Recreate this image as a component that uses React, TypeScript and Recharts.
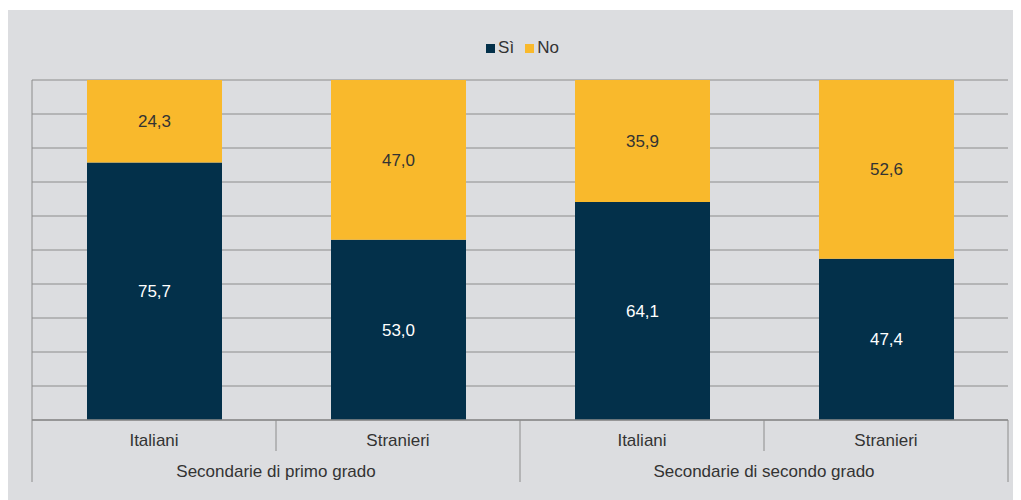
import React from "react";
import { BarChart, Bar, XAxis, YAxis, CartesianGrid, Legend, LabelList } from "recharts";

const categories = ["Italiani", "Stranieri", "Italiani", "Stranieri"];
const groups = ["Secondarie di primo grado", "Secondarie di primo grado", "Secondarie di secondo grado", "Secondarie di secondo grado"];
const siValues = [75.7, 53.0, 64.1, 47.4];
const noValues = [24.3, 47.0, 35.9, 52.6];
const yTicks = [0, 10, 20, 30, 40, 50, 60, 70, 80, 90, 100];
const seriesNames = ["Sì", "No"];

const DARK = "#03304a";
const YELLOW = "#f9b92c";
const GRID = "#8c8c8c";
const TEXT = "#333333";
const FONT = "'Liberation Sans', Arial, sans-serif";
const FS = 17;

const data = categories.map((c, i) => ({ key: `${i}`, cat: c, group: groups[i], si: siValues[i], no: noValues[i] }));

const fmt = (v: any) => Number(v).toFixed(1).replace(".", ",");

const EmptyTick = () => <g />;

const CatTick = (props: any) => {
  const { x, y, payload, index } = props;
  const half = payload && payload.offset ? payload.offset : 122;
  const i = index as number;
  const isGroupEnd = i % 2 === 1;
  const els: any[] = [];
  els.push(
    <text key="t" x={x} y={y + 26} textAnchor="middle" fill={TEXT} fontSize={FS} fontFamily={FONT}>
      {categories[i]}
    </text>
  );
  els.push(
    <line key="r" x1={x + half} x2={x + half} y1={y} y2={y + (isGroupEnd ? 62 : 31)} stroke={GRID} strokeWidth={1} />
  );
  if (i === 0) {
    els.push(<line key="l" x1={x - half} x2={x - half} y1={y} y2={y + 62} stroke={GRID} strokeWidth={1} />);
  }
  if (i % 2 === 0) {
    els.push(
      <text key="g" x={x + half} y={y + 57} textAnchor="middle" fill={TEXT} fontSize={FS} fontFamily={FONT}>
        {groups[i]}
      </text>
    );
  }
  return <g>{els}</g>;
};

const LegendContent = () => (
  <div style={{ display: "flex", justifyContent: "center", alignItems: "center", height: 20, fontFamily: FONT, fontSize: FS, color: TEXT, paddingLeft: 16 }}>
    {seriesNames.map((n, i) => (
      <span key={n} style={{ display: "flex", alignItems: "center", marginRight: i === 0 ? 11 : 0 }}>
        <span style={{ display: "inline-block", width: 9, height: 9, background: i === 0 ? DARK : YELLOW, marginRight: 3 }} />
        {n}
      </span>
    ))}
  </div>
);

export default function App() {
  return (
    <div style={{ marginTop: 2, width: 1013, height: 490, background: "#dcdde0" }}>
      <BarChart
        width={1013}
        height={490}
        data={data}
        margin={{ top: 50, right: 13, bottom: 10, left: 0 }}
        style={{ fontFamily: FONT }}
      >
        <CartesianGrid vertical={false} horizontal={true} stroke={GRID} strokeWidth={1} />
        <YAxis
          type="number"
          domain={[0, 100]}
          ticks={yTicks}
          tick={<EmptyTick />}
          tickLine={false}
          axisLine={{ stroke: GRID }}
          width={24}
        />
        <XAxis
          dataKey="key"
          axisLine={{ stroke: GRID, strokeWidth: 1.5 }}
          tickLine={false}
          tickSize={0}
          tickMargin={0}
          height={70}
          interval={0}
          tick={<CatTick />}
        />
        <Legend
          verticalAlign="top"
          content={<LegendContent />}
          wrapperStyle={{ top: 28, left: 0, width: 1013 }}
        />
        <Bar dataKey="si" name="Sì" stackId="a" fill={DARK} barSize={135} isAnimationActive={false}>
          <LabelList dataKey="si" position="center" fill="#ffffff" fontSize={FS} fontFamily={FONT} formatter={fmt} />
        </Bar>
        <Bar dataKey="no" name="No" stackId="a" fill={YELLOW} barSize={135} isAnimationActive={false}>
          <LabelList dataKey="no" position="center" fill={TEXT} fontSize={FS} fontFamily={FONT} formatter={fmt} />
        </Bar>
      </BarChart>
    </div>
  );
}
